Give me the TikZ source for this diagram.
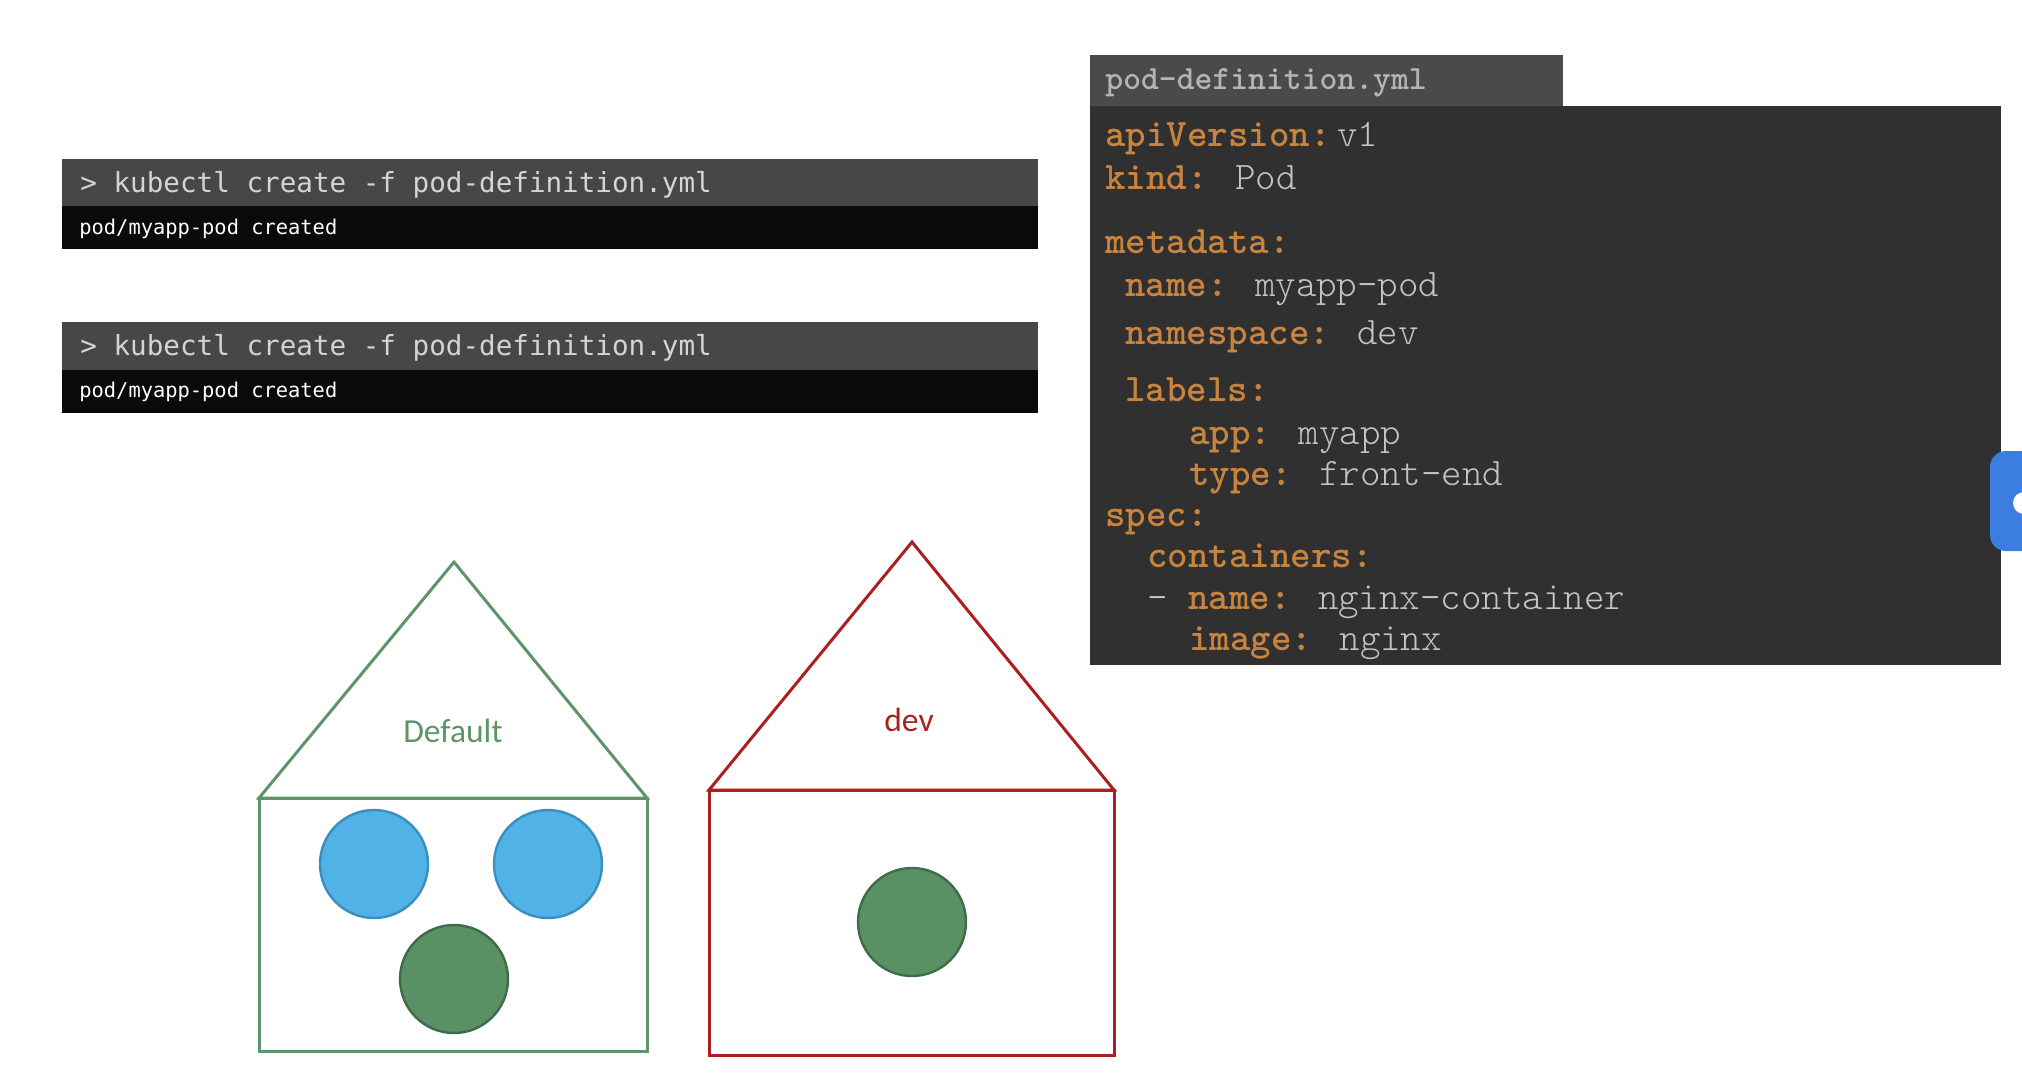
\documentclass[tikz,border=0pt]{standalone}
\usepackage{fontspec}
\newfontfamily\termfont{DejaVu Sans Mono}
\newfontfamily\yamlfont{lmmonolt10-regular.otf}[BoldFont=lmmonolt10-bold.otf]
\newfontfamily\labfont{Carlito}
\definecolor{termtop}{HTML}{474747}
\definecolor{termbot}{HTML}{0A0A0A}
\definecolor{termtxt}{HTML}{D4D4D4}
\definecolor{yamlhead}{HTML}{4A4A4A}
\definecolor{yamlbg}{HTML}{303030}
\definecolor{yamlkey}{HTML}{C8843F}
\definecolor{yamlval}{HTML}{C4C4C4}
\definecolor{yamlhtxt}{HTML}{B4B4B4}
\definecolor{hgreen}{HTML}{5E9468}
\definecolor{hred}{HTML}{AD1F1F}
\definecolor{podblue}{HTML}{50B2E6}
\definecolor{podblueb}{HTML}{3C8EBF}
\definecolor{podgreen}{HTML}{5A9164}
\definecolor{podgreenb}{HTML}{3E6B48}
\definecolor{uiblue}{HTML}{3B7DE0}
\begin{document}
\begin{tikzpicture}[x=0.5pt,y=-0.5pt,
  cmd/.style={anchor=base west,inner sep=0,text=termtxt,font=\termfont\fontsize{13.8pt}{16pt}\selectfont},
  outp/.style={anchor=base west,inner sep=0,text=white,font=\termfont\fontsize{10.2pt}{12pt}\selectfont},
  yl/.style={anchor=base west,inner sep=0,text=yamlval,font=\yamlfont\fontsize{19.5pt}{22pt}\selectfont},
  yhead/.style={anchor=base west,inner sep=0,text=yamlhtxt,font=\yamlfont\bfseries\fontsize{17pt}{20pt}\selectfont},
  nslabel/.style={font=\labfont\fontsize{16.8pt}{20pt}\selectfont,inner sep=0},
  bluepod/.style={circle,draw=podblueb,fill=podblue,line width=1.2pt,minimum size=54pt,inner sep=0},
  greenpod/.style={circle,draw=podgreenb,fill=podgreen,line width=1.2pt,minimum size=54pt,inner sep=0},
  house/.style={line width=1.5pt,line join=miter}]
\useasboundingbox (0,0) rectangle (2022,1078);
\clip (0,0) rectangle (2022,1078);
\newcommand\yk[1]{\textcolor{yamlkey}{\bfseries #1}}
% terminals
\fill[termtop] (62,159) rectangle (1038,206);
\fill[termbot] (62,206) rectangle (1038,249);
\node[cmd] (c1) at (80,192) {> kubectl create -f pod-definition.yml};
\node[outp] (o1) at (79,234) {pod/myapp-pod created};
\fill[termtop] (62,322) rectangle (1038,370);
\fill[termbot] (62,370) rectangle (1038,413);
\node[cmd] (c2) at (80,355) {> kubectl create -f pod-definition.yml};
\node[outp] (o2) at (79,397) {pod/myapp-pod created};
% yaml
\fill[yamlhead] (1090,55) rectangle (1563,106);
\fill[yamlbg] (1090,106) rectangle (2001,665);
\node[yhead] (yh) at (1105,89) {pod-definition.yml};
\node[yl] (y1) at (1105,146) {\yk{apiVersion:}\,v1};
\node[yl] (y2) at (1105,189) {\yk{kind:} Pod};
\node[yl] (y3) at (1105,253) {\yk{metadata:}};
\node[yl] (y4) at (1125,296) {\yk{name:} myapp-pod};
\node[yl] (y5) at (1125,344) {\yk{namespace:} dev};
\node[yl] (y6) at (1125,401) {\yk{labels:}};
\node[yl] (y7) at (1189,444) {\yk{app:} myapp};
\node[yl] (y8) at (1189,485) {\yk{type:} front-end};
\node[yl] (y9) at (1105,526) {\yk{spec:}};
\node[yl] (y10) at (1147,567) {\yk{containers:}};
\node[yl] (y11) at (1147,609) {- \yk{name:} nginx-container};
\node[yl] (y12) at (1189,650) {\yk{image:} nginx};
% ui tab at right edge
\fill[uiblue,rounded corners=8pt] (1990,451) rectangle (2060,551);
\fill[white] (2024,503) circle[radius=11];
% default namespace
\draw[house,hgreen] (259,798) -- (454,562) -- (647,798) -- cycle;
\draw[house,hgreen] (259,798) rectangle (647,1051);
\node[nslabel,text=hgreen] (ldef) at (453,731) {Default};
\node[bluepod] (p1) at (374,864) {};
\node[bluepod] (p2) at (548,864) {};
\node[greenpod] (p3) at (454,979) {};
% dev namespace
\draw[house,hred] (709,790) -- (912,542) -- (1114,790) -- cycle;
\draw[house,hred] (709,790) rectangle (1114,1055);
\node[nslabel,text=hred] (ldev) at (909,720) {dev};
\node[greenpod] (p4) at (912,922) {};
\end{tikzpicture}
\end{document}
